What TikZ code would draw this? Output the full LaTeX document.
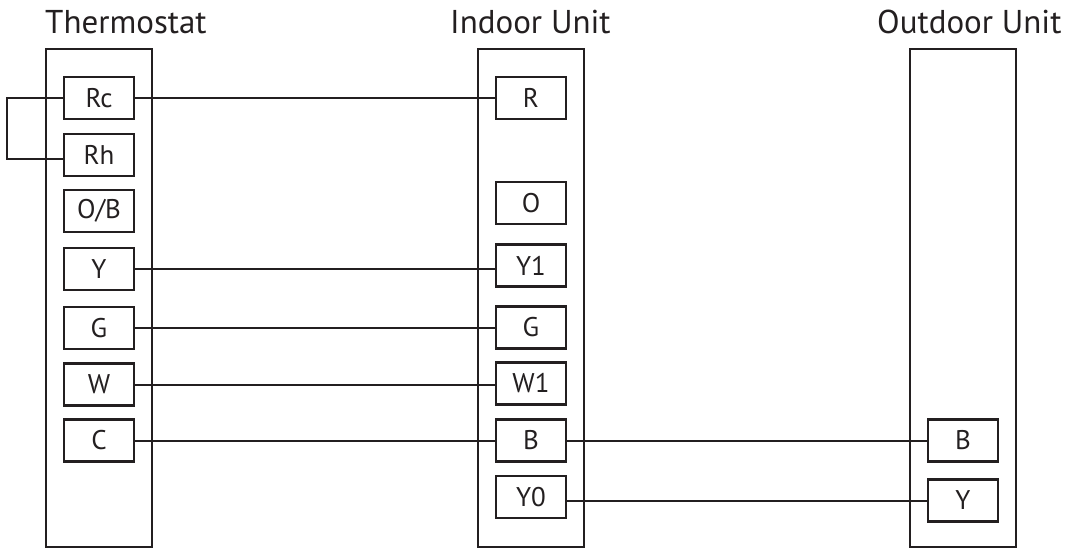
\documentclass[tikz,border=0pt]{standalone}
\usepackage{fontspec}
\setmainfont{PT Sans}
\definecolor{ink}{RGB}{35,31,32}
\begin{document}
\begin{tikzpicture}[x=1pt,y=-1pt,
  unitbox/.style={draw=ink,line width=2pt,minimum width=106pt,minimum height=498pt,inner sep=0pt},
  term/.style={draw=ink,line width=2.2pt,minimum width=70pt,minimum height=42pt,inner sep=0pt,text=ink,font=\fontsize{27}{30}\selectfont},
  title/.style={anchor=base west,inner sep=0pt,text=ink,font=\fontsize{33}{38}\selectfont},
  wire/.style={draw=ink,line width=2pt}]
\useasboundingbox (0,0) rectangle (1069,550);
% units
\node[unitbox] (thermo) at (99,298) {};
\node[unitbox] (indoor) at (530.5,298) {};
\node[unitbox] (outdoor) at (963,298) {};
% titles
\node[title] (tthermo) at (45,33) {Thermostat};
\node[title] (tindoor) at (450,33) {Indoor Unit};
\node[title] (toutdoor) at (877,33) {Outdoor Unit};
% thermostat terminals
\node[term] (tRc) at (99,98) {Rc};
\node[term] (tRh) at (99,155) {Rh};
\node[term] (tOB) at (99,211) {O/B};
\node[term] (tY) at (99,269) {Y};
\node[term] (tG) at (99,328) {G};
\node[term] (tW) at (99,384.5) {W};
\node[term] (tC) at (99,440.5) {C};
% indoor terminals
\node[term] (iR) at (531,98) {R};
\node[term] (iO) at (531,203) {O};
\node[term] (iY1) at (531,265.5) {Y1};
\node[term] (iG) at (531,327.5) {G};
\node[term] (iW1) at (531,383.5) {W1};
\node[term] (iB) at (531,440.5) {B};
\node[term] (iY0) at (531,497) {Y0};
% outdoor terminals
\node[term] (oB) at (963,440.5) {B};
\node[term] (oY) at (963,500.5) {Y};
% wires
\draw[wire] (tRc.west) -- ++(-56,0) |- ([yshift=-4pt]tRh.west);
\draw[wire] (tRc.east) -- (tRc.east -| iR.west);
\draw[wire] (tY.east) -- (tY.east -| iY1.west);
\draw[wire] (tG.east) -- (tG.east -| iG.west);
\draw[wire] (tW.east) -- (tW.east -| iW1.west);
\draw[wire] (tC.east) -- (tC.east -| iB.west);
\draw[wire] (iB.east) -- (iB.east -| oB.west);
\draw[wire] (oY.west -| iY0.east) -- (oY.west);
\end{tikzpicture}
\end{document}
